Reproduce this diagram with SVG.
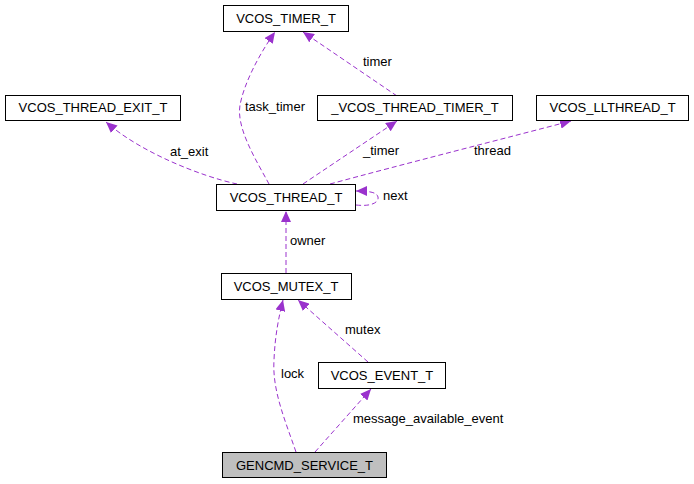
<svg xmlns="http://www.w3.org/2000/svg" width="694" height="484" viewBox="0 0 694 484">
<style>
.node rect{fill:#ffffff;stroke:#000000;stroke-width:1}
.node.main rect{fill:#bfbfbf}
.node text{font-family:"Liberation Sans",Arial,sans-serif;font-size:13px;text-anchor:middle;fill:#000000}
.edge path{fill:none;stroke:#9a32cd;stroke-width:1;stroke-dasharray:5,3}
.lbl{font-family:"Liberation Sans",Arial,sans-serif;font-size:13px;fill:#000000}
</style>
<defs>
<marker id="ah" markerUnits="userSpaceOnUse" markerWidth="11" markerHeight="10" viewBox="0 0 11 10" refX="11" refY="5" orient="auto">
<path d="M0,0 L11,5 L0,10 z" fill="#9a32cd" stroke="none"/>
</marker>
</defs>
<rect width="694" height="484" fill="#ffffff"/>
<g id="edges" class="edge">
<path d="M269,184 C256,160 236,128 240,105 C244,84 258,56 275,32" marker-end="url(#ah)"/>
<path d="M397,96 L303,32" marker-end="url(#ah)"/>
<path d="M237,184 C200,176 140,152 106,122" marker-end="url(#ah)"/>
<path d="M303,184 L397,121" marker-end="url(#ah)"/>
<path d="M330,184 C400,165 510,137 571,121" marker-end="url(#ah)"/>
<path d="M356,205 C374,207 379,201 378,197 C377,193 372,191 356,191" marker-end="url(#ah)"/>
<path d="M286,273 L286,211" marker-end="url(#ah)"/>
<path d="M368,362 L298,300" marker-end="url(#ah)"/>
<path d="M296,452 C285,420 272,390 274,360 C275,335 279,316 283,300" marker-end="url(#ah)"/>
<path d="M315,452 L371,389" marker-end="url(#ah)"/>
</g>
<g id="edge-labels">
<text class="lbl" x="245" y="111">task_timer</text>
<text class="lbl" x="363" y="66">timer</text>
<text class="lbl" x="170" y="156">at_exit</text>
<text class="lbl" x="363" y="155">_timer</text>
<text class="lbl" x="474" y="155">thread</text>
<text class="lbl" x="383" y="200">next</text>
<text class="lbl" x="290" y="245">owner</text>
<text class="lbl" x="345" y="334">mutex</text>
<text class="lbl" x="281" y="378">lock</text>
<text class="lbl" x="353" y="423">message_available_event</text>
</g>
<g id="n_timer" class="node"><rect x="223.5" y="5.5" width="125" height="26"/><text x="286" y="22.5">VCOS_TIMER_T</text></g>
<g id="n_thread_exit" class="node"><rect x="5.5" y="95.5" width="175" height="25"/><text x="93" y="112">VCOS_THREAD_EXIT_T</text></g>
<g id="n_thread_timer" class="node"><rect x="317.5" y="95.5" width="195" height="25"/><text x="415" y="112">_VCOS_THREAD_TIMER_T</text></g>
<g id="n_llthread" class="node"><rect x="536.5" y="95.5" width="152" height="25"/><text x="612.5" y="112">VCOS_LLTHREAD_T</text></g>
<g id="n_thread" class="node"><rect x="216.5" y="184.5" width="139" height="26"/><text x="286" y="201.5">VCOS_THREAD_T</text></g>
<g id="n_mutex" class="node"><rect x="221.5" y="273.5" width="130" height="26"/><text x="286" y="290.5">VCOS_MUTEX_T</text></g>
<g id="n_event" class="node"><rect x="318.5" y="362.5" width="127" height="26"/><text x="382" y="379.5">VCOS_EVENT_T</text></g>
<g id="n_gencmd" class="node main"><rect x="222.5" y="452.5" width="164" height="25"/><text x="304.5" y="469.5">GENCMD_SERVICE_T</text></g>
</svg>
